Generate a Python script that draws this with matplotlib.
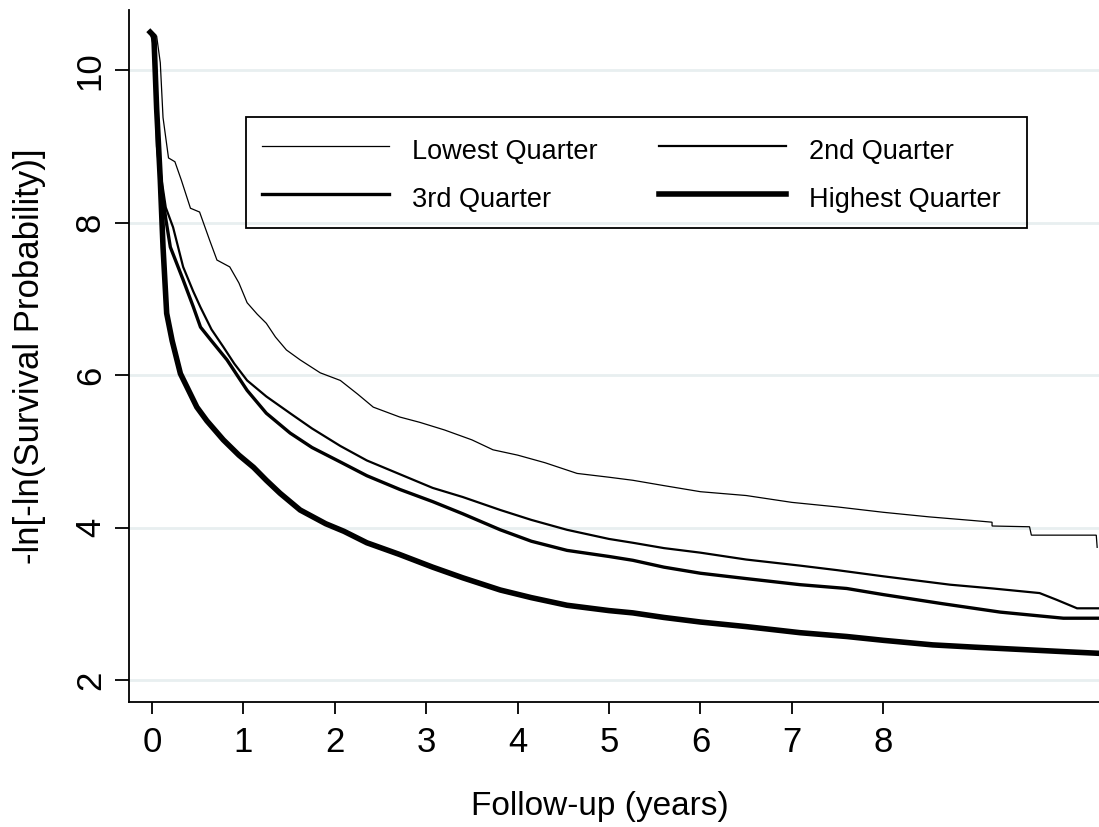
import numpy as np
import matplotlib.pyplot as plt
from matplotlib.patches import Rectangle

plt.rcParams['font.family'] = ['Liberation Sans', 'DejaVu Sans']

# follow-up time (years) and -ln[-ln(S)] values for each quarter
t_q1 = [0.0, 0.05, 0.09, 0.12, 0.18, 0.25, 0.32, 0.42, 0.52, 0.63, 0.71, 0.85,
        0.95, 1.04, 1.15, 1.25, 1.35, 1.47, 1.62, 1.84, 2.06, 2.25, 2.42, 2.71,
        2.93, 3.2, 3.5, 3.73, 4.0, 4.3, 4.65, 5.0, 5.26, 5.6, 6.0, 6.5, 7.0,
        7.5, 8.0, 8.5, 9.0, 9.19, 9.19, 9.6, 9.62, 10.33, 10.34]
s_q1 = [10.45, 10.45, 10.1, 9.38, 8.85, 8.8, 8.56, 8.19, 8.14, 7.77, 7.51, 7.42,
        7.21, 6.95, 6.8, 6.68, 6.5, 6.33, 6.2, 6.03, 5.93, 5.75, 5.58, 5.45,
        5.38, 5.28, 5.15, 5.02, 4.95, 4.85, 4.71, 4.66, 4.62, 4.55, 4.47, 4.42,
        4.33, 4.27, 4.2, 4.14, 4.09, 4.07, 4.02, 4.01, 3.9, 3.9, 3.74]

t_q2 = [0.0, 0.03, 0.06, 0.1, 0.15, 0.23, 0.34, 0.45, 0.53, 0.65, 0.78, 0.9,
        1.04, 1.25, 1.51, 1.75, 2.06, 2.35, 2.71, 3.07, 3.4, 3.81, 4.15, 4.54,
        5.0, 5.26, 5.6, 6.0, 6.5, 7.09, 7.5, 8.0, 8.73, 9.2, 9.71, 9.9, 10.12,
        10.35]
s_q2 = [10.45, 10.4, 9.2, 8.6, 8.2, 7.94, 7.42, 7.1, 6.89, 6.6, 6.37, 6.15,
        5.93, 5.72, 5.5, 5.3, 5.07, 4.88, 4.7, 4.52, 4.4, 4.23, 4.1, 3.97,
        3.85, 3.8, 3.73, 3.67, 3.58, 3.5, 3.44, 3.36, 3.25, 3.2, 3.14, 3.05,
        2.94, 2.94]

t_q3 = [0.0, 0.03, 0.06, 0.1, 0.15, 0.2, 0.34, 0.45, 0.53, 0.65, 0.82, 1.04,
        1.25, 1.51, 1.75, 2.06, 2.35, 2.71, 3.07, 3.4, 3.81, 4.15, 4.54, 5.0,
        5.26, 5.6, 6.0, 6.5, 7.09, 7.6, 8.0, 8.65, 9.28, 9.97, 10.35]
s_q3 = [10.45, 10.3, 9.0, 8.5, 8.05, 7.68, 7.25, 6.9, 6.63, 6.45, 6.2, 5.8,
        5.5, 5.24, 5.05, 4.86, 4.68, 4.5, 4.34, 4.18, 3.97, 3.82, 3.7, 3.62,
        3.57, 3.48, 3.4, 3.33, 3.25, 3.2, 3.12, 3.0, 2.89, 2.81, 2.81]

t_q4 = [-0.02, 0.02, 0.05, 0.09, 0.12, 0.16, 0.22, 0.31, 0.4, 0.49, 0.6, 0.78,
        0.95, 1.11, 1.25, 1.4, 1.62, 1.9, 2.1, 2.35, 2.7, 3.07, 3.4, 3.81,
        4.15, 4.54, 5.0, 5.26, 5.6, 6.0, 6.5, 7.09, 7.6, 8.0, 8.54, 9.0, 9.5,
        10.0, 10.35]
s_q4 = [10.5, 10.45, 9.5, 8.56, 7.68, 6.81, 6.45, 6.02, 5.8, 5.58, 5.4, 5.15,
        4.95, 4.79, 4.62, 4.45, 4.23, 4.05, 3.95, 3.8, 3.65, 3.48, 3.34, 3.18,
        3.08, 2.98, 2.91, 2.88, 2.82, 2.76, 2.7, 2.62, 2.57, 2.52, 2.46, 2.43,
        2.4, 2.37, 2.35]

labels = ["Lowest Quarter", "2nd Quarter", "3rd Quarter", "Highest Quarter"]
widths = [0.9, 1.6, 2.4, 4.0]
x_ticks = [0, 1, 2, 3, 4, 5, 6, 7, 8]
y_ticks = [2, 4, 6, 8, 10]

fig = plt.figure(figsize=(10.99, 8.27), dpi=100)
ax = fig.add_axes([0.1174, 0.1511, 0.8826, 0.8367])

series = [(t_q1, s_q1), (t_q2, s_q2), (t_q3, s_q3), (t_q4, s_q4)]
handles = []
for (t, s), lab, lw in zip(series, labels, widths):
    h, = ax.plot(t, s, color='black', lw=lw, label=lab,
                 solid_joinstyle='miter', zorder=3)
    handles.append(h)

ax.set_xlim(-0.252, 10.36)
ax.set_ylim(1.71, 10.79)
ax.set_xticks(x_ticks)
ax.set_yticks(y_ticks)
ax.yaxis.grid(True, color='#E8EFF0', lw=2.0)
ax.set_axisbelow(True)

for side in ['top', 'right']:
    ax.spines[side].set_visible(False)
for side in ['left', 'bottom']:
    ax.spines[side].set_linewidth(1.3)

ax.tick_params(axis='x', length=8.5, width=1.3, pad=9, labelsize=25)
ax.tick_params(axis='y', length=10, width=1.3, pad=6, labelsize=25)
for lbl in ax.get_yticklabels():
    lbl.set_rotation(90)
    lbl.set_va('center')

ax.set_xlabel("Follow-up (years)", fontsize=24, labelpad=23)
ax.xaxis.label.set_x(0.4856)
ax.set_ylabel("-ln[-ln(Survival Probability)]", fontsize=25, labelpad=20)

# two rows: Lowest / 2nd on top, 3rd / Highest below
order = [0, 2, 1, 3]
leg = ax.legend([handles[i] for i in order], [labels[i] for i in order],
                ncol=2, loc='upper left', bbox_to_anchor=(0.1206, 0.8454),
                borderaxespad=0, fontsize=19.5, handlelength=4.7,
                handleheight=1.55, handletextpad=0.85, columnspacing=2.24,
                labelspacing=0.52, borderpad=0.59, frameon=False)

# legend box
ax.add_patch(Rectangle((0.1206, 0.6850), 0.9258 - 0.1206, 0.8454 - 0.6850,
                       transform=ax.transAxes, fill=False, edgecolor='black',
                       lw=1.3, zorder=4))

fig.savefig('out.png', dpi=100)
